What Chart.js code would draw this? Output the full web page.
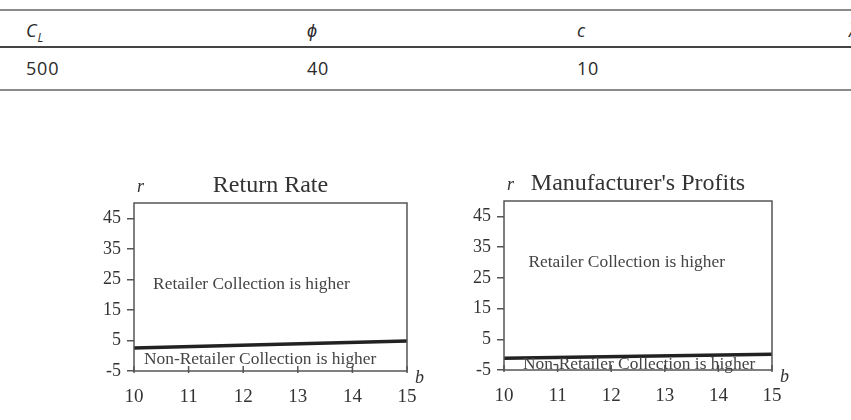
<!DOCTYPE html>
<html>
<head>
<meta charset="utf-8">
<script src="https://cdn.jsdelivr.net/npm/chart.js@4/dist/chart.umd.min.js"></script>
<style>
  html, body { margin: 0; padding: 0; background: #fff; }
  body { width: 851px; height: 420px; position: relative; overflow: hidden; }
  .rule { position: absolute; left: 0; width: 851px; height: 2px; }
  .cell { position: absolute; font-family: "Open Sans", sans-serif; font-size: 18px; line-height: 18px; color: #2a2a2a; letter-spacing: 0.8px; white-space: nowrap; }
  .cell i sub { font-size: 12px; }
  canvas { position: absolute; }
</style>
</head>
<body>
<div class="rule" style="top:9px;background:#8a8a8a"></div>
<div class="rule" style="top:46px;background:#444"></div>
<div class="rule" style="top:89px;background:#8a8a8a"></div>
<div id="table"></div>

<canvas id="rate" width="440" height="260" style="left:0;top:160px"></canvas>
<canvas id="profit" width="411" height="260" style="left:440px;top:160px"></canvas>

<script>
// --- table data ---
const tableHeaders = ['C<sub>L</sub>', '\u03D5', 'c', '\u03BB'];
const tableValues = ['500', '40', '10', ''];

// --- chart data ---
const bValues = [10, 15];
const xTicks = [10, 11, 12, 13, 14, 15];
const yTicks = [-5, 5, 15, 25, 35, 45];
const returnRateBoundary = [2.5, 4.8];
const profitsBoundary = [-1.2, 0.1];
const chartTitles = ['Return Rate', "Manufacturer's Profits"];
const regionLabels = ['Retailer Collection is higher', 'Non-Retailer Collection is higher'];

// build table row text
const colX = [26, 307, 577, 849];
const tableEl = document.getElementById('table');
tableHeaders.forEach((h, i) => {
  const d = document.createElement('div');
  d.className = 'cell';
  d.style.left = colX[i] + 'px';
  d.style.top = '21px';
  d.innerHTML = '<i>' + h + '</i>';
  tableEl.appendChild(d);
  const v = document.createElement('div');
  v.className = 'cell';
  v.style.left = colX[i] + 'px';
  v.style.top = '59px';
  v.textContent = tableValues[i];
  tableEl.appendChild(v);
});

const SERIF = '"Liberation Serif", "Times New Roman", serif';
const INK = '#333';

// draws the box, inner x ticks, title, axis letters and region notes
const framePlugin = {
  id: 'frame',
  afterDraw(chart, args, opts) {
    const { ctx, chartArea: a, scales: { x, y } } = chart;
    ctx.save();
    ctx.strokeStyle = '#555';
    ctx.lineWidth = 1.5;
    ctx.strokeRect(a.left, a.top, a.right - a.left, a.bottom - a.top);
    xTicks.forEach(v => {
      const px = x.getPixelForValue(v);
      ctx.beginPath();
      ctx.moveTo(px, a.bottom + 2);
      ctx.lineTo(px, a.bottom - 5);
      ctx.stroke();
    });
    ctx.fillStyle = INK;
    ctx.textBaseline = 'alphabetic';
    ctx.textAlign = 'center';
    ctx.font = '24px ' + SERIF;
    ctx.fillText(opts.title, (a.left + a.right) / 2, a.top - 11);
    ctx.textAlign = 'left';
    ctx.font = 'italic 18px ' + SERIF;
    ctx.fillText('r', a.left + 3, a.top - 11);
    ctx.fillText('b', a.right + 8, a.bottom + 12);
    ctx.font = '17.4px ' + SERIF;
    ctx.fillStyle = '#444';
    ctx.textAlign = 'center';
    opts.notes.forEach(n => {
      ctx.fillText(n.text, x.getPixelForValue(n.x), y.getPixelForValue(n.y));
    });
    ctx.restore();
  }
};

function makeChart(id, boundary, title, notes, padding) {
  return new Chart(document.getElementById(id), {
    type: 'line',
    data: {
      datasets: [{
        data: bValues.map((b, i) => ({ x: b, y: boundary[i] })),
        borderColor: '#222',
        borderWidth: 3.5,
        pointRadius: 0,
        tension: 0
      }]
    },
    options: {
      responsive: false,
      animation: false,
      events: [],
      layout: { padding },
      plugins: {
        legend: { display: false },
        tooltip: { enabled: false },
        frame: { title, notes }
      },
      scales: {
        x: {
          type: 'linear',
          min: 10,
          max: 15,
          afterBuildTicks: s => { s.ticks = xTicks.map(v => ({ value: v })); },
          afterFit: s => { s.height = 38; },
          grid: { display: false, drawTicks: false },
          border: { display: false },
          ticks: {
            autoSkip: false,
            maxRotation: 0,
            padding: 15,
            color: INK,
            font: { family: SERIF, size: 19 }
          }
        },
        y: {
          type: 'linear',
          min: -5,
          max: 50,
          afterBuildTicks: s => { s.ticks = yTicks.map(v => ({ value: v })); },
          afterFit: s => { s.width = 40; },
          grid: { drawOnChartArea: false, drawTicks: true, tickLength: 7, color: '#555', lineWidth: 1.5 },
          border: { display: false },
          ticks: {
            padding: 6,
            color: INK,
            font: { family: SERIF, size: 18 }
          }
        }
      }
    },
    plugins: [framePlugin]
  });
}

makeChart('rate', returnRateBoundary, chartTitles[0], [
  { text: regionLabels[0], x: 12.15, y: 21.8 },
  { text: regionLabels[1], x: 12.31, y: -2.7 }
], { left: 94, top: 43, right: 33, bottom: 11 });

makeChart('profit', profitsBoundary, chartTitles[1], [
  { text: regionLabels[0], x: 12.29, y: 28.4 },
  { text: regionLabels[1], x: 12.52, y: -4.7 }
], { left: 24, top: 41, right: 79, bottom: 12 });
</script>
</body>
</html>
